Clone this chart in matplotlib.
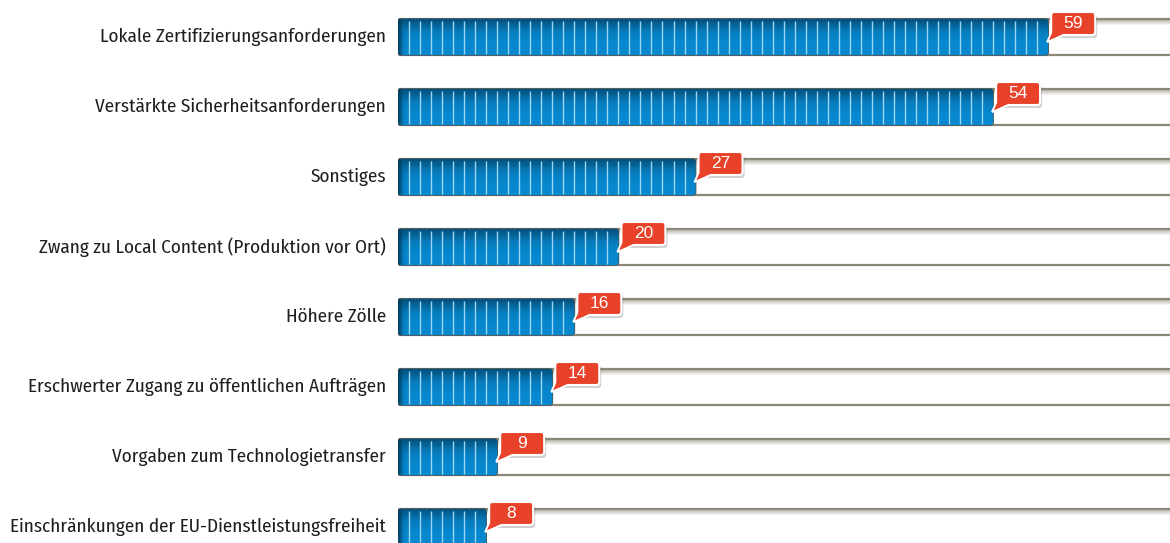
import numpy as np
import matplotlib.pyplot as plt
from matplotlib.patches import FancyBboxPatch, Polygon, Rectangle
from matplotlib.colors import LinearSegmentedColormap
from matplotlib import font_manager

categories = [
    "Lokale Zertifizierungsanforderungen",
    "Verstärkte Sicherheitsanforderungen",
    "Sonstiges",
    "Zwang zu Local Content (Produktion vor Ort)",
    "Höhere Zölle",
    "Erschwerter Zugang zu öffentlichen Aufträgen",
    "Vorgaben zum Technologietransfer",
    "Einschränkungen der EU-Dienstleistungsfreiheit",
]
values = [59, 54, 27, 20, 16, 14, 9, 8]

W, H = 1170, 543
fig = plt.figure(figsize=(W / 100, H / 100), dpi=100)
ax_left = 398 / W
ax = fig.add_axes([ax_left, 0, 1 - ax_left, 1])

xmax = (W - 398) / 11.02
ax.set_xlim(0, xmax)
ax.set_ylim((H - 37) / 70, -37 / 70)
ax.axis('off')

px = 1 / 11.02   # one pixel in x
py = 1 / 70      # one pixel in y

names = set(f.name for f in font_manager.fontManager.ttflist)
label_font = "DejaVu Sans"
for cand in ["Ubuntu Condensed", "Fira Sans Condensed", "Roboto Condensed",
             "PT Sans Narrow", "Barlow Semi Condensed", "Asap Condensed", "Archivo Narrow"]:
    if cand in names:
        label_font = cand
        break

# font size so the longest label is ~378 px wide
renderer = fig.canvas.get_renderer()
probe = fig.text(0, 0, categories[-1], fontsize=12, family=label_font)
wpx = probe.get_window_extent(renderer).width
probe.remove()
label_size = 12 * 378 / wpx

red = '#e8432a'
bh = 36 * py
blue_cmap = LinearSegmentedColormap.from_list('b', ['#04537f', '#067cbd', '#0787cd', '#0789d0'])
shade_cmap = LinearSegmentedColormap.from_list('s', [(0.0, 0.2, 0.3, 0.85), (0.0, 0.35, 0.55, 0.0)])

for i, (cat, v) in enumerate(zip(categories, values)):
    top = i - bh / 2
    # background track
    ax.add_patch(FancyBboxPatch((0, top), xmax + 5, bh,
                                boxstyle="round,pad=0,rounding_size=0.25",
                                mutation_aspect=py / px,
                                facecolor='white', edgecolor='#8b8878', lw=1.6, zorder=1))
    for k in range(6):
        ax.add_patch(Rectangle((0.2, top + k * py), xmax + 5, py,
                               facecolor='#8b8878', alpha=0.65 - k * 0.11,
                               lw=0, zorder=1.5))
    # blue bar
    bar = FancyBboxPatch((0, top), v, bh,
                         boxstyle="round,pad=0,rounding_size=0.25",
                         mutation_aspect=py / px,
                         facecolor='#0784c8', edgecolor='#4a5a5a', lw=1.2, zorder=2)
    ax.add_patch(bar)
    img = ax.imshow(np.linspace(0, 1, 12).reshape(-1, 1), extent=(0, v, top + bh, top),
                    aspect='auto', cmap=blue_cmap, zorder=2.1, interpolation='bicubic')
    img.set_clip_path(bar)
    shade = ax.imshow(np.array([[0.0, 1.0]]), extent=(0, 0.7, top + bh, top),
                      aspect='auto', cmap=shade_cmap, zorder=2.2, interpolation='bicubic')
    shade.set_clip_path(bar)
    ax.vlines(np.arange(1, v), top + 2 * py, top + bh - py, color='#9ad6f5',
              lw=1.0, zorder=2.3)

    ax.text(-12 * px, i, cat, ha='right', va='center', fontsize=label_size,
            family=label_font, color='#1e1e1e')

    # callout
    bx = v + 3 * px
    bw = 44 * px
    by = i - 25 * py
    bhh = 23 * py
    tip = (v - 1 * px, i + 5 * py)
    ptr = [(bx + 2 * px, by + bhh - 6 * py), (bx + 12 * px, by + bhh), tip]
    ax.add_patch(FancyBboxPatch((bx + 2 * px, by + 3 * py), bw, bhh,
                                boxstyle="round,pad=0,rounding_size=0.3",
                                mutation_aspect=py / px,
                                facecolor='black', alpha=0.18, lw=0, zorder=3))
    ax.add_patch(Polygon(ptr, closed=True, facecolor=red, edgecolor='white',
                         lw=1.5, zorder=4))
    ax.add_patch(FancyBboxPatch((bx, by), bw, bhh,
                                boxstyle="round,pad=0,rounding_size=0.3",
                                mutation_aspect=py / px,
                                facecolor=red, edgecolor='white', lw=1.5, zorder=4))
    ax.add_patch(Polygon([(bx + 3 * px, by + bhh - 7 * py),
                          (bx + 12 * px, by + bhh - 1 * py),
                          (tip[0] + 2 * px, tip[1] - 2 * py)],
                         closed=True, facecolor=red, lw=0, zorder=4.5))
    ax.text(bx + bw / 2, by + bhh / 2 + 0.5 * py, str(v), ha='center', va='center',
            color='white', fontsize=12.5, family='Liberation Sans', zorder=5)

fig.savefig('out.png', dpi=100)
